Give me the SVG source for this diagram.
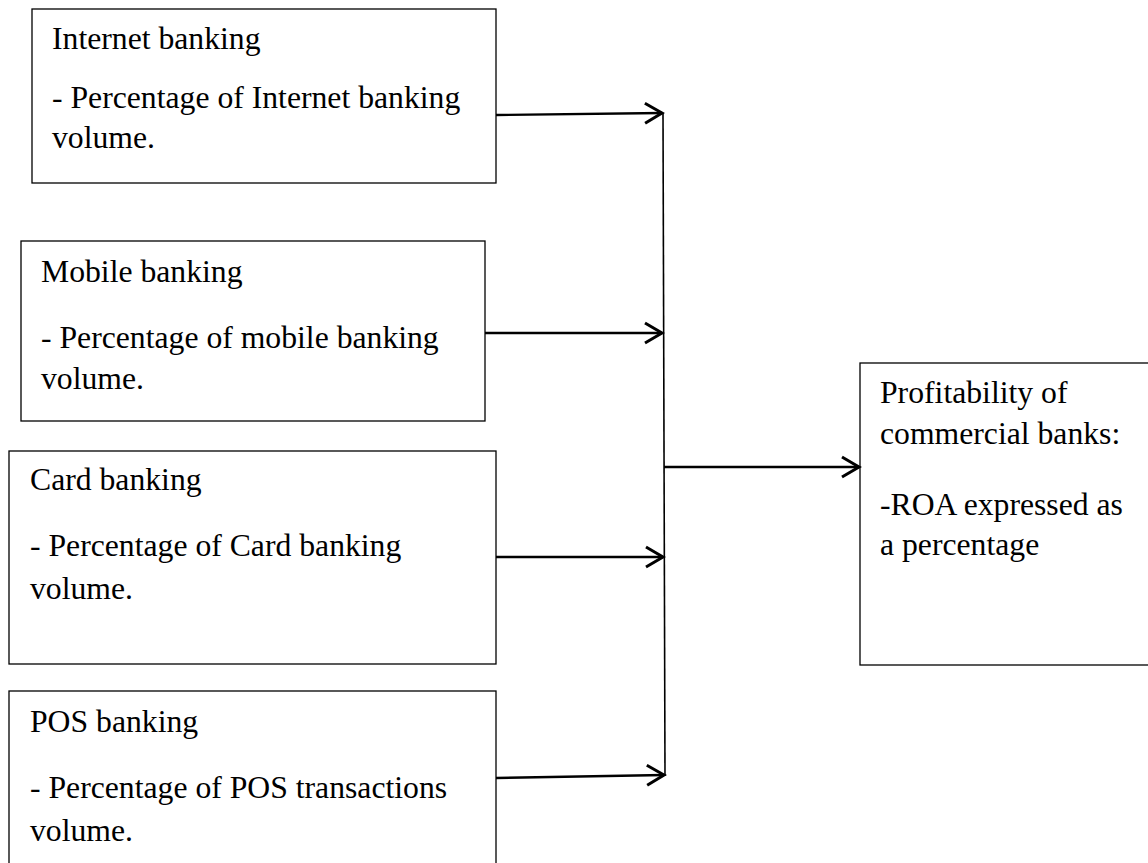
<svg xmlns="http://www.w3.org/2000/svg" width="1148" height="863" viewBox="0 0 1148 863">
<style>
  .box { fill: #ffffff; stroke: #000000; stroke-width: 1.3; }
  .t { font-family: "Liberation Serif", "Times New Roman", serif; font-size: 31.7px; fill: #000000; }
  .conn { fill: none; stroke: #000000; stroke-width: 2.4; }
  .vline { fill: none; stroke: #000000; stroke-width: 1.6; }
</style>
<defs>
  <marker id="arrow" markerUnits="userSpaceOnUse" markerWidth="26" markerHeight="26" viewBox="-22 -13 26 26" refX="0" refY="0" orient="auto">
    <path d="M -17 -10 L 0 0 L -17 10" fill="none" stroke="#000000" stroke-width="3"/>
  </marker>
</defs>
<rect width="1148" height="863" fill="#ffffff"/>

<g id="node-internet">
  <rect class="box" x="32" y="9" width="464" height="174"/>
  <text class="t" x="52" y="49">Internet banking</text>
  <text class="t" x="52" y="108">- Percentage of Internet banking</text>
  <text class="t" x="52" y="148">volume.</text>
</g>

<g id="node-mobile">
  <rect class="box" x="21" y="241" width="464" height="180"/>
  <text class="t" x="41" y="282">Mobile banking</text>
  <text class="t" x="41" y="348">- Percentage of mobile banking</text>
  <text class="t" x="41" y="389">volume.</text>
</g>

<g id="node-card">
  <rect class="box" x="9" y="451" width="487" height="213"/>
  <text class="t" x="30" y="490">Card banking</text>
  <text class="t" x="30" y="556">- Percentage of Card banking</text>
  <text class="t" x="30" y="599">volume.</text>
</g>

<g id="node-pos">
  <rect class="box" x="9" y="691" width="487" height="190"/>
  <text class="t" x="30" y="732">POS banking</text>
  <text class="t" x="30" y="798">- Percentage of POS transactions</text>
  <text class="t" x="30" y="841">volume.</text>
</g>

<g id="node-profit">
  <rect class="box" x="860" y="363" width="300" height="302"/>
  <text class="t" x="880" y="403">Profitability of</text>
  <text class="t" x="880" y="444">commercial banks:</text>
  <text class="t" x="880" y="515">-ROA expressed as</text>
  <text class="t" x="880" y="555">a percentage</text>
</g>

<g id="connectors">
  <line class="vline" x1="663" y1="113" x2="665" y2="776"/>
  <line class="conn" x1="496" y1="115" x2="662" y2="113" marker-end="url(#arrow)"/>
  <line class="conn" x1="485" y1="333" x2="662" y2="333" marker-end="url(#arrow)"/>
  <line class="conn" x1="496" y1="557" x2="663" y2="557" marker-end="url(#arrow)"/>
  <line class="conn" x1="496" y1="778" x2="664" y2="775" marker-end="url(#arrow)"/>
  <line class="conn" x1="664" y1="467" x2="859" y2="467" marker-end="url(#arrow)"/>
</g>
</svg>
